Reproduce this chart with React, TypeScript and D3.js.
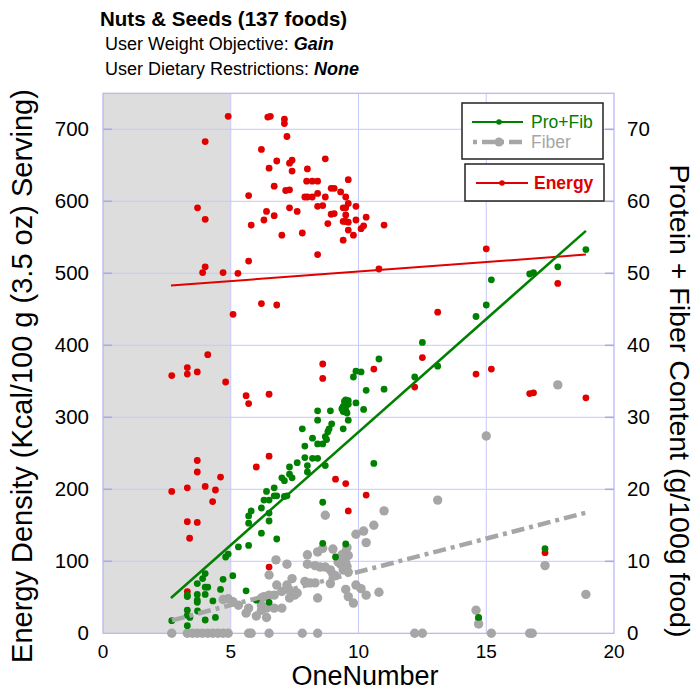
import React from "react";
import * as d3 from "d3";

// ---------- data ----------
const energyPts: [number, number][] = [
  [4.9, 718], [4.0, 683], [6.45, 717], [6.55, 718], [7.1, 714], [7.1, 708], [7.2, 690], [6.2, 672],
  [6.8, 656], [6.5, 646], [7.3, 653], [7.4, 657], [7.4, 642], [8.0, 645], [8.7, 659], [9.6, 630],
  [5.7, 608], [6.7, 621], [7.15, 615], [7.3, 616], [7.97, 628], [8.19, 628], [8.4, 628], [7.9, 606],
  [8.0, 606], [8.19, 606], [8.4, 611], [8.7, 606], [8.93, 618], [9.05, 618], [9.3, 613], [9.5, 606],
  [8.4, 593], [8.6, 594], [9.4, 591], [9.5, 591], [9.6, 597], [8.93, 582], [9.05, 583], [9.5, 581],
  [9.4, 572], [9.5, 572], [9.6, 571], [9.6, 560], [9.4, 546], [8.8, 569], [8.4, 526], [7.8, 556],
  [7.6, 586], [7.3, 591], [7.0, 553], [6.7, 580], [6.4, 586], [6.3, 574], [5.8, 567], [5.7, 517],
  [3.7, 591], [4.0, 575], [4.0, 509], [3.9, 501], [4.7, 501], [5.28, 500], [6.2, 458], [6.8, 456],
  [5.09, 443], [9.9, 593], [10.3, 578], [9.9, 574], [10.1, 562], [10.2, 566], [9.8, 553], [11.0, 567],
  [10.8, 506], [15.0, 534], [17.8, 486], [13.1, 446],
  [2.69, 358], [3.3, 369], [3.3, 360], [3.69, 363], [4.1, 387], [4.8, 349], [5.6, 330], [5.7, 319],
  [6.5, 332], [8.6, 374], [8.6, 354], [10.6, 367], [12.5, 383], [12.2, 342], [14.6, 360], [15.2, 367],
  [16.7, 333], [16.85, 334], [18.9, 327],
  [3.69, 240], [3.69, 224], [2.69, 197], [3.3, 202], [4.0, 204], [4.4, 199], [4.6, 217], [4.29, 183],
  [3.3, 155], [3.69, 154], [3.39, 132], [6.0, 231], [6.5, 246], [9.1, 214], [9.5, 208], [9.6, 170],
  [10.3, 192], [17.3, 112], [14.7, 21], [3.3, 58], [6.5, 92],
];

const proFibPts: [number, number][] = [
  [18.9, 53.3], [17.8, 50.9], [16.7, 49.9], [16.85, 50.1], [15.2, 49.1], [15.0, 45.6], [14.6, 44.0],
  [12.5, 40.4], [13.1, 37.1], [10.8, 38.1], [9.8, 35.6], [9.9, 36.4], [10.1, 36.3], [10.3, 33.75],
  [11.0, 33.9], [12.2, 35.6], [9.9, 32.0], [10.2, 31.1],
  [9.4, 31.5], [9.45, 32.2], [9.5, 32.4], [9.5, 31.0], [9.55, 30.6], [9.6, 31.8], [9.5, 31.6],
  [9.4, 30.8], [9.6, 32.3], [9.35, 31.2],
  [9.6, 29.6], [9.4, 28.4], [8.4, 30.9], [8.9, 30.9], [8.4, 29.6], [8.95, 29.1], [8.85, 28.4],
  [8.8, 28.0], [7.8, 28.4], [8.2, 27.1], [8.7, 27.3], [8.75, 26.9], [8.4, 26.3], [8.6, 26.3],
  [7.9, 26.0], [7.9, 24.4], [8.0, 23.3], [8.2, 24.3], [8.4, 24.3], [7.6, 23.7], [7.3, 23.1],
  [8.7, 23.3], [8.0, 22.4], [7.0, 21.6], [7.1, 21.2], [7.3, 22.1], [7.4, 21.6], [10.6, 23.6],
  [6.7, 20.2], [6.4, 19.7], [6.7, 19.1], [6.8, 19.1], [7.1, 19.0], [7.2, 19.1], [6.3, 18.5],
  [6.5, 18.5], [6.2, 17.4], [5.7, 16.3], [5.8, 17.0], [5.7, 15.3], [6.5, 16.7], [6.5, 15.6],
  [6.2, 13.9], [6.8, 13.1], [5.7, 12.2], [5.3, 12.0], [8.6, 18.2], [8.6, 12.5], [9.5, 12.4],
  [9.1, 10.6], [4.9, 11.0], [4.8, 10.6], [5.08, 8.0], [5.6, 5.9], [6.0, 4.6], [6.5, 4.3],
  [4.0, 8.3], [3.9, 7.6], [3.69, 6.9], [4.0, 6.4], [4.1, 6.4], [4.7, 7.5], [4.6, 6.1], [3.3, 5.3],
  [3.3, 5.1], [3.69, 5.4], [3.69, 4.6], [3.69, 4.3], [4.0, 5.4], [4.3, 4.5], [3.3, 3.2], [3.3, 2.5],
  [3.4, 2.2], [3.7, 3.1], [4.4, 2.2], [4.0, 1.85], [2.69, 1.75], [3.3, 1.06], [17.3, 11.75], [14.7, 2.2],
];

const fiberPts: [number, number][] = [
  [17.8, 34.5], [15.0, 27.4], [13.1, 18.5], [11.0, 17.0], [8.7, 16.4], [10.6, 15.0], [10.2, 14.2],
  [9.9, 13.75], [10.3, 12.6],
  [9.55, 11.9], [9.5, 11.3], [9.6, 10.8], [9.45, 10.4], [9.5, 9.8], [9.3, 9.6], [9.55, 9.3],
  [9.4, 8.8], [9.6, 8.5], [9.2, 9.9], [9.35, 10.9],
  [9.0, 11.7], [8.4, 11.3], [8.6, 11.8], [8.0, 10.9], [6.77, 10.2], [7.2, 9.6], [8.0, 9.6],
  [8.3, 9.4], [8.5, 9.2], [8.7, 9.2], [8.9, 8.8], [9.0, 8.2], [9.1, 8.0], [6.5, 8.1], [7.4, 7.6],
  [7.9, 7.2], [8.1, 7.0], [8.3, 7.0], [8.9, 6.9], [6.8, 6.7], [7.2, 6.7], [7.3, 6.0], [7.0, 5.8],
  [7.6, 5.6], [7.5, 5.3], [6.7, 5.3], [6.5, 5.3], [6.3, 5.1], [6.2, 4.9], [7.3, 4.9], [9.5, 6.1],
  [9.9, 6.7], [10.1, 6.2], [10.3, 5.3], [10.8, 5.7], [9.6, 5.1], [9.8, 4.2], [8.4, 4.9], [6.2, 3.9],
  [6.4, 3.5], [6.2, 3.2], [6.7, 3.5], [7.0, 3.5], [5.7, 3.5], [5.6, 2.8], [6.0, 2.4], [6.4, 2.2],
  [5.3, 3.9], [5.08, 4.4], [4.9, 4.8], [4.7, 4.7], [17.3, 9.4], [18.9, 5.4], [14.6, 3.2], [14.7, 1.3],
  [2.69, 0], [3.3, 0], [3.5, 0], [3.69, 0], [3.89, 0], [4.1, 0], [4.3, 0], [4.5, 0], [4.7, 0],
  [4.9, 0], [5.7, 0], [5.8, 0], [6.5, 0], [7.8, 0], [8.4, 0], [12.2, 0], [12.5, 0], [15.2, 0],
  [16.7, 0], [16.8, 0],
];

// trend lines (endpoints)
const energyTrend: [number, number][] = [[2.66, 483], [18.9, 526]];
const proFibTrend: [number, number][] = [[2.66, 4.9], [18.9, 55.9]];
const fiberTrend: [number, number][] = [[2.7, 1.8], [18.9, 16.75]];

const xTicks = [0, 5, 10, 15, 20];
const yLeftTicks = [0, 100, 200, 300, 400, 500, 600, 700];
const yRightTicks = [0, 10, 20, 30, 40, 50, 60, 70];
const shadeRange = [0, 5];

const titleText = "Nuts & Seeds (137 foods)";
const objective = "Gain";
const restrictions = "None";

// ---------- layout ----------
const W = 696, H = 691;
const PL = 103, PR = 614, PT = 93.3, PB = 633.3;
const FONT = "'Liberation Sans', Arial, Helvetica, sans-serif";
const GRID = "#c8c8fa";
const RED = "#e00000";
const GREEN = "#008000";
const GRAY = "#a6a6a6";

export default function App() {
  const x = d3.scaleLinear().domain([0, 20]).range([PL, PR]);
  const yL = d3.scaleLinear().domain([0, 750]).range([PB, PT]);
  const yR = d3.scaleLinear().domain([0, 75]).range([PB, PT]);
  const lineL = d3.line<[number, number]>().x(d => x(d[0])).y(d => yL(d[1]));
  const lineR = d3.line<[number, number]>().x(d => x(d[0])).y(d => yR(d[1]));

  return (
    <svg width={W} height={H} style={{ position: "absolute", left: 0, top: 0, background: "#fff" }}
      fontFamily={FONT}>
      {/* title */}
      <text x={100} y={26} fontSize={20.5} fontWeight="bold">{titleText}</text>
      <text x={105} y={50} fontSize={18}>User Weight Objective: <tspan fontWeight="bold" fontStyle="italic">{objective}</tspan></text>
      <text x={105} y={75} fontSize={18}>User Dietary Restrictions: <tspan fontWeight="bold" fontStyle="italic">{restrictions}</tspan></text>

      {/* plot background */}
      <rect x={PL} y={PT} width={PR - PL} height={PB - PT} fill="#fff" />
      <rect x={x(shadeRange[0])} y={PT} width={x(shadeRange[1]) - x(shadeRange[0])} height={PB - PT} fill="#dcdddc" />

      {/* grid */}
      {xTicks.slice(1, -1).map(t => (
        <line key={"gx" + t} x1={x(t)} x2={x(t)} y1={PT} y2={PB} stroke={GRID} strokeWidth={1} />
      ))}
      {yLeftTicks.slice(1).map(t => (
        <line key={"gy" + t} x1={PL} x2={PR} y1={yL(t)} y2={yL(t)} stroke={GRID} strokeWidth={1} />
      ))}
      {/* inward ticks */}
      {yLeftTicks.slice(1).map(t => (
        <g key={"tk" + t}>
          <line x1={PL} x2={PL + 9} y1={yL(t)} y2={yL(t)} stroke="#a8a8ee" strokeWidth={1.5} />
          <line x1={PR - 9} x2={PR} y1={yL(t)} y2={yL(t)} stroke="#a8a8ee" strokeWidth={1.5} />
        </g>
      ))}
      <rect x={PL} y={PT} width={PR - PL} height={PB - PT} fill="none" stroke="#b4b4f0" strokeWidth={1.2} />

      {/* tick labels */}
      {xTicks.map(t => (
        <text key={"xl" + t} x={x(t)} y={658} fontSize={19} textAnchor="middle">{t}</text>
      ))}
      {yLeftTicks.map(t => (
        <text key={"yl" + t} x={89} y={yL(t)} dy="0.35em" fontSize={20.5} textAnchor="end">{t}</text>
      ))}
      {yRightTicks.map(t => (
        <text key={"yr" + t} x={627} y={yR(t)} dy="0.35em" fontSize={20.5} textAnchor="start">{t}</text>
      ))}

      {/* axis titles */}
      <text x={365} y={685} fontSize={27} textAnchor="middle">OneNumber</text>
      <text transform={`translate(32,376) rotate(-90)`} fontSize={29} textAnchor="middle">
        Energy Density (Kcal/100 g (3.5 oz) Serving)
      </text>
      <text transform={`translate(670,401) rotate(90)`} fontSize={28.5} textAnchor="middle">
        Protein + Fiber Content (g/100g food)
      </text>

      {/* points: energy, fiber, pro+fib */}
      {energyPts.map((d, i) => (
        <circle key={"e" + i} cx={x(d[0])} cy={yL(d[1])} r={3.4} fill={RED} />
      ))}
      {fiberPts.map((d, i) => (
        <circle key={"f" + i} cx={x(d[0])} cy={yR(d[1])} r={4.7} fill={GRAY} />
      ))}
      {proFibPts.map((d, i) => (
        <circle key={"p" + i} cx={x(d[0])} cy={yR(d[1])} r={3.4} fill={GREEN} />
      ))}

      {/* trend lines */}
      <path d={lineR(fiberTrend) || ""} stroke={GRAY} strokeWidth={4.5} fill="none" strokeDasharray="13,5,4,5" />
      <path d={lineL(energyTrend) || ""} stroke={RED} strokeWidth={2} fill="none" />
      <path d={lineR(proFibTrend) || ""} stroke={GREEN} strokeWidth={2.5} fill="none" />

      {/* legends */}
      <rect x={462} y={103} width={141} height={56} fill="#fff" stroke="#222" strokeWidth={1.5} />
      <line x1={472} x2={523} y1={122} y2={122} stroke={GREEN} strokeWidth={2} />
      <circle cx={499} cy={122} r={2.8} fill={GREEN} />
      <text x={531} y={128} fontSize={17.5} fill={GREEN}>Pro+Fib</text>
      <line x1={473} x2={523} y1={142} y2={142} stroke={GRAY} strokeWidth={4.5} strokeDasharray="4,5,13,5" />
      <circle cx={499} cy={142} r={4.5} fill={GRAY} />
      <text x={531} y={148} fontSize={17.5} fill={GRAY}>Fiber</text>

      <rect x={465} y={164} width={139} height={37} fill="#fff" stroke="#222" strokeWidth={1.5} />
      <line x1={476} x2={528} y1={183} y2={183} stroke={RED} strokeWidth={2} />
      <circle cx={502} cy={183} r={2.8} fill={RED} />
      <text x={534} y={189} fontSize={17.5} fontWeight="bold" fill={RED}>Energy</text>
    </svg>
  );
}
